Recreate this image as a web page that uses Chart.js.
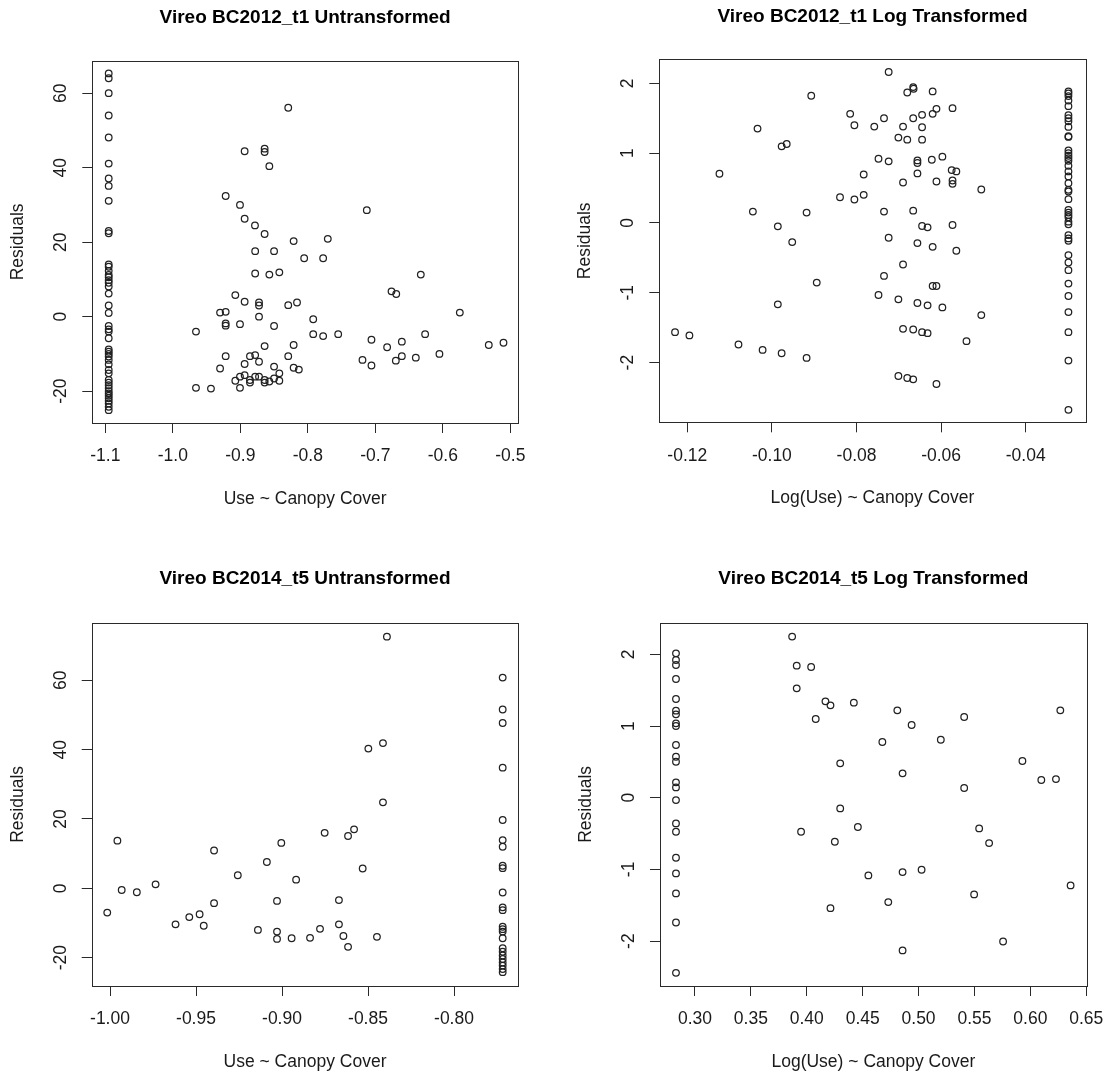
<!DOCTYPE html>
<html>
<head>
<meta charset="utf-8">
<script src="https://cdn.jsdelivr.net/npm/chart.js@4/dist/chart.umd.min.js"></script>
<style>
  html, body { margin: 0; padding: 0; background: #fff; }
  #page { position: relative; width: 1109px; height: 1076px; overflow: hidden; background: #fff; }
  canvas { position: absolute; }
</style>
</head>
<body>
<div id="page">
  <canvas id="c1" width="554" height="538" style="left:0px;top:0px"></canvas>
  <canvas id="c2" width="554" height="538" style="left:555px;top:0px"></canvas>
  <canvas id="c3" width="554" height="538" style="left:0px;top:538px"></canvas>
  <canvas id="c4" width="554" height="538" style="left:555px;top:538px"></canvas>
</div>
<script>
// ---------------- DATA ----------------
const titles = [
  "Vireo BC2012_t1 Untransformed",
  "Vireo BC2012_t1 Log Transformed",
  "Vireo BC2014_t5 Untransformed",
  "Vireo BC2014_t5 Log Transformed"
];
const xTitles = ["Use ~ Canopy Cover", "Log(Use) ~ Canopy Cover", "Use ~ Canopy Cover", "Log(Use) ~ Canopy Cover"];
const yTitle = "Residuals";

// Panel 1: Vireo BC2012_t1 Untransformed
const p1X = [
  -1.095,-1.095,-1.095,-1.095,-1.095,-1.095,-1.095,-1.095,-1.095,-1.095,
  -1.095,-1.095,-1.095,-1.095,-1.095,-1.095,-1.095,-1.095,-1.095,-1.095,
  -1.095,-1.095,-1.095,-1.095,-1.095,-1.095,-1.095,-1.095,-1.095,-1.095,
  -1.095,-1.095,-1.095,-1.095,-1.095,-1.095,-1.095,-1.095,-1.095,-1.095,
  -1.095,-1.095,-1.095,-1.095,-1.095,-1.095,
  -0.829,-0.8936,-0.864,-0.864,-0.857,-0.7126,-0.9217,-0.9005,-0.8936,-0.8783,
  -0.864,-0.821,-0.7704,-0.878,-0.850,-0.8054,-0.7773,-0.878,-0.857,-0.8422,
  -0.6326,-0.676,-0.669,-0.9074,-0.8936,-0.8723,-0.8723,-0.829,-0.816,-0.5748,
  -0.930,-0.9217,-0.9217,-0.9217,-0.9005,-0.8723,-0.850,-0.792,-0.9657,-0.792,
  -0.7773,-0.755,-0.7057,-0.6262,-0.6607,-0.6825,-0.5319,-0.5101,-0.864,-0.821,
  -0.9217,-0.8936,-0.8857,-0.878,-0.8723,-0.829,-0.719,-0.7057,-0.6696,-0.6607,
  -0.640,-0.605,-0.930,-0.850,-0.821,-0.8133,-0.9005,-0.9074,-0.8936,-0.8857,
  -0.878,-0.8723,-0.864,-0.864,-0.857,-0.850,-0.8422,-0.8422,-0.8857,-0.9005,
  -0.9657,-0.9435
];
const p1Y = [
  65.3,64.0,60.0,54.0,48.1,41.1,37.1,35.1,31.1,23.0,
  22.4,14.0,13.4,12.3,11.2,10.6,9.8,9.1,8.1,6.2,
  3.0,1.0,-2.5,-3.4,-4.0,-5.8,-8.8,-9.4,-10.0,-10.7,
  -11.6,-12.8,-14.3,-15.2,-17.0,-17.7,-18.4,-19.2,-20.0,-20.6,
  -21.2,-21.9,-22.6,-23.3,-24.2,-25.1,
  56.1,44.4,45.1,44.2,40.4,28.6,32.4,30.0,26.3,24.5,
  22.2,20.3,20.9,17.6,17.6,15.7,15.7,11.6,11.3,11.9,
  11.3,6.8,6.1,5.8,4.0,3.8,3.0,3.1,3.8,1.1,
  1.1,1.3,-1.8,-2.4,-2.0,0.0,-2.5,-0.7,-4.0,-4.7,
  -5.2,-4.7,-6.2,-4.7,-6.7,-8.2,-7.6,-7.0,-7.9,-7.6,
  -10.6,-12.7,-10.6,-10.3,-12.1,-10.6,-11.6,-13.1,-11.8,-10.6,
  -11.0,-10.0,-13.9,-13.4,-13.7,-14.2,-16.1,-17.2,-15.7,-17.0,
  -16.1,-16.1,-17.0,-17.7,-17.4,-16.6,-15.2,-17.2,-17.7,-19.1,
  -19.1,-19.3
];
const p1XTicks = [-1.1, -1.0, -0.9, -0.8, -0.7, -0.6, -0.5];
const p1XTickLabels = ["-1.1", "-1.0", "-0.9", "-0.8", "-0.7", "-0.6", "-0.5"];
const p1YTicks = [-20, 0, 20, 40, 60];
const p1YTickLabels = ["-20", "0", "20", "40", "60"];

// Panel 2: Vireo BC2012_t1 Log Transformed
const p2X = [
  -0.1229,-0.1195,-0.1124,-0.1079,-0.1045,-0.1034,-0.1022,-0.0986,-0.0986,-0.0977,
  -0.0965,-0.0977,-0.0952,-0.0918,-0.0918,-0.0907,-0.0894,-0.0839,-0.0815,-0.0805,
  -0.0805,-0.0724,-0.0666,-0.0665,-0.068,-0.062,-0.0758,-0.0735,-0.069,-0.0666,
  -0.0645,-0.062,-0.0611,-0.0573,-0.0645,-0.0701,-0.068,-0.0645,-0.0748,-0.0724,
  -0.0656,-0.0656,-0.0622,-0.0597,-0.0783,-0.0656,-0.0575,-0.0564,-0.069,-0.0611,
  -0.0573,-0.0573,-0.0505,-0.0783,-0.0735,-0.0666,-0.0645,-0.0632,-0.0573,-0.0724,
  -0.0656,-0.062,-0.0564,-0.069,-0.0735,-0.062,-0.0611,-0.0748,-0.0701,-0.0656,
  -0.0632,-0.0597,-0.0505,-0.069,-0.0666,-0.0645,-0.0632,-0.054,-0.0701,-0.068,
  -0.0666,-0.0611,
  -0.0299,-0.0299,-0.0299,-0.0299,-0.0299,-0.0299,-0.0299,-0.0299,-0.0299,-0.0299,
  -0.0299,-0.0299,-0.0299,-0.0299,-0.0299,-0.0299,-0.0299,-0.0299,-0.0299,-0.0299,
  -0.0299,-0.0299,-0.0299,-0.0299,-0.0299,-0.0299,-0.0299,-0.0299,-0.0299,-0.0299,
  -0.0299,-0.0299,-0.0299,-0.0299,-0.0299,-0.0299,-0.0299,-0.0299,-0.0299,-0.0299,
  -0.0299
];
const p2Y = [
  -1.564,-1.61,0.705,-1.741,0.163,1.352,-1.818,-0.048,-1.165,1.098,
  1.132,-1.866,-0.273,0.149,-1.933,1.823,-0.854,0.369,1.564,1.400,
  0.336,2.163,1.947,1.923,1.87,1.885,1.381,1.501,1.381,1.501,
  1.549,1.564,1.635,1.645,1.372,1.223,1.194,1.194,0.921,0.883,
  0.897,0.859,0.906,0.950,0.695,0.710,0.758,0.739,0.580,0.595,
  0.609,0.561,0.480,0.403,0.163,0.177,-0.043,-0.062,-0.029,-0.211,
  -0.288,-0.341,-0.398,-0.595,-0.758,-0.902,-0.902,-1.031,-1.094,-1.146,
  -1.180,-1.209,-1.319,-1.516,-1.525,-1.564,-1.578,-1.693,-2.192,-2.221,
  -2.240,-2.307,
  1.885,1.856,1.818,1.755,1.674,1.544,1.501,1.458,1.376,1.242,
  1.233,1.041,1.002,0.964,0.930,0.892,0.820,0.739,0.667,0.571,
  0.475,0.451,0.341,0.187,0.149,0.115,0.082,0.019,-0.019,-0.173,
  -0.221,-0.254,-0.460,-0.566,-0.676,-0.868,-1.046,-1.276,-1.564,-1.971,
  -2.676
];
const p2XTicks = [-0.12, -0.10, -0.08, -0.06, -0.04];
const p2XTickLabels = ["-0.12", "-0.10", "-0.08", "-0.06", "-0.04"];
const p2YTicks = [-2, -1, 0, 1, 2];
const p2YTickLabels = ["-2", "-1", "0", "1", "2"];

// Panel 3: Vireo BC2014_t5 Untransformed
const p3X = [
  -1.0016,-0.9957,-0.9932,-0.9844,-0.9735,-0.9619,-0.9539,-0.9479,-0.9455,-0.9395,
  -0.9395,-0.9257,-0.914,-0.9088,-0.9029,-0.9029,-0.9029,-0.9004,-0.8944,-0.8918,
  -0.839,-0.8498,-0.8413,-0.8413,-0.8752,-0.8616,-0.8581,-0.8531,-0.8669,-0.8669,
  -0.8779,-0.8643,-0.8616,-0.8448,-0.8837,
  -0.7717,-0.7717,-0.7717,-0.7717,-0.7717,-0.7717,-0.7717,-0.7717,-0.7717,-0.7717,
  -0.7717,-0.7717,-0.7717,-0.7717,-0.7717,-0.7717,-0.7717,-0.7717,-0.7717,-0.7717,
  -0.7717,-0.7717,-0.7717,-0.7717
];
const p3Y = [
  -7.0,13.75,-0.5,-1.15,1.15,-10.4,-8.3,-7.5,-10.8,10.9,
  -4.3,3.75,-12.0,7.6,-3.65,-12.5,-14.6,13.1,-14.4,2.5,
  72.6,40.3,41.9,24.8,16.0,15.1,17.0,5.7,-3.4,-10.4,
  -11.7,-13.75,-16.9,-14.0,-14.3,
  60.8,51.6,47.7,34.8,19.7,13.9,12.0,6.5,5.8,-1.2,
  -5.5,-6.3,-11.1,-11.8,-12.5,-14.4,-17.3,-18.3,-19.4,-20.4,
  -21.4,-22.3,-23.3,-24.2
];
const p3XTicks = [-1.00, -0.95, -0.90, -0.85, -0.80];
const p3XTickLabels = ["-1.00", "-0.95", "-0.90", "-0.85", "-0.80"];
const p3YTicks = [-20, 0, 20, 40, 60];
const p3YTickLabels = ["-20", "0", "20", "40", "60"];

// Panel 4: Vireo BC2014_t5 Log Transformed
const p4X = [
  0.3869,0.391,0.4039,0.391,0.4167,0.4212,0.4421,0.408,0.4299,0.4299,
  0.4457,0.3949,0.4251,0.4212,0.481,0.4938,0.5408,0.4676,0.5199,0.6268,
  0.5929,0.6098,0.6229,0.4857,0.5408,0.5542,0.5631,0.4551,0.4857,0.5027,
  0.636,0.4729,0.5497,0.5756,0.4857,
  0.283,0.283,0.283,0.283,0.283,0.283,0.283,0.283,0.283,0.283,
  0.283,0.283,0.283,0.283,0.283,0.283,0.283,0.283,0.283,0.283,
  0.283,0.283
];
const p4Y = [
  2.247,1.842,1.823,1.526,1.344,1.288,1.326,1.098,0.479,-0.149,
  -0.409,-0.474,-0.614,-1.540,1.219,1.014,1.126,0.777,0.809,1.219,
  0.512,0.247,0.260,0.340,0.135,-0.428,-0.633,-1.084,-1.037,-1.005,
  -1.223,-1.456,-1.349,-2.005,-2.130,
  2.014,1.921,1.851,1.656,1.377,1.214,1.163,1.037,1.0,0.735,
  0.572,0.502,0.214,0.144,-0.033,-0.358,-0.474,-0.837,-1.056,-1.335,
  -1.740,-2.442
];
const p4XTicks = [0.30, 0.35, 0.40, 0.45, 0.50, 0.55, 0.60, 0.65];
const p4XTickLabels = ["0.30", "0.35", "0.40", "0.45", "0.50", "0.55", "0.60", "0.65"];
const p4YTicks = [-2, -1, 0, 1, 2];
const p4YTickLabels = ["-2", "-1", "0", "1", "2"];

// ---------------- LAYOUT / STYLE ----------------
const FAMILY = '"Liberation Sans", Arial, Helvetica, sans-serif';
const FS = 17.5, LH = FS * 1.2;
const TFS = 19, TLH = TFS * 1.2;
const TICK_LEN = 10;
const X_LABEL_OFFSET = 33.5;          // box bottom -> centre of x tick labels
const INK = '#1a1a1a';

const panels = [
  { id: 'c1', title: titles[0], xTitle: xTitles[0], xs: p1X, ys: p1Y,
    xTicks: p1XTicks, xLabels: p1XTickLabels, yTicks: p1YTicks, yLabels: p1YTickLabels,
    xMin: -1.1193, xMax: -0.4886, yMin: -28.54, yMax: 68.72,
    box: [92.3, 60.7, 518, 423], titleCY: 17.7 },
  { id: 'c2', title: titles[1], xTitle: xTitles[1], xs: p2X, ys: p2Y,
    xTicks: p2XTicks, xLabels: p2XTickLabels, yTicks: p2YTicks, yLabels: p2YTickLabels,
    xMin: -0.12662, xMax: -0.02582, yMin: -2.855, yMax: 2.345,
    box: [104.3, 59.3, 530.7, 422.3], titleCY: 16.3 },
  { id: 'c3', title: titles[2], xTitle: xTitles[2], xs: p3X, ys: p3Y,
    xTicks: p3XTicks, xLabels: p3XTickLabels, yTicks: p3YTicks, yLabels: p3YTickLabels,
    xMin: -1.01064, xMax: -0.76262, yMin: -28.19, yMax: 76.63,
    box: [91.7, 84.7, 518.3, 448], titleCY: 40.5 },
  { id: 'c4', title: titles[3], xTitle: xTitles[3], xs: p4X, ys: p4Y,
    xTicks: p4XTicks, xLabels: p4XTickLabels, yTicks: p4YTicks, yLabels: p4YTickLabels,
    xMin: 0.2687, xMax: 0.6504, yMin: -2.626, yMax: 2.441,
    box: [105, 84.7, 531.7, 448], titleCY: 40.5 }
];

const boxPlugin = {
  id: 'rbox',
  afterDatasetsDraw(chart) {
    const { ctx, chartArea: a } = chart;
    ctx.save();
    ctx.strokeStyle = '#2a2a2a';
    ctx.lineWidth = 1;
    const l = Math.round(a.left) + 0.5, t = Math.round(a.top) + 0.5;
    const r = Math.round(a.right) + 0.5, b = Math.round(a.bottom) + 0.5;
    ctx.strokeRect(l, t, r - l, b - t);
    ctx.restore();
  }
};

const measureCtx = document.createElement('canvas').getContext('2d');

function makeChart(p) {
  const canvas = document.getElementById(p.id);
  const W = canvas.width, H = canvas.height;
  const [bl, bt, br, bb] = p.box;
  measureCtx.font = FS + 'px ' + FAMILY;
  const widest = Math.max(...p.yLabels.map(s => measureCtx.measureText(s).width));
  const tickFont = { family: FAMILY, size: FS };
  // x tick labels: no padding (so edge labels do not shrink the plot); the
  // line height places the label centre at the wanted distance below the box
  const xTickFont = { family: FAMILY, size: FS, lineHeight: 2 * (X_LABEL_OFFSET - TICK_LEN) / FS };
  const titlePadTop = p.titleCY - TLH / 2;

  return new Chart(canvas, {
    type: 'scatter',
    data: {
      datasets: [{
        data: p.xs.map((x, i) => ({ x: x, y: p.ys[i] })),
        pointStyle: 'circle',
        pointRadius: 3.3,
        pointBorderWidth: 1.25,
        pointBorderColor: '#222',
        pointBackgroundColor: 'rgba(0,0,0,0)',
        showLine: false
      }]
    },
    options: {
      responsive: false,
      animation: false,
      events: [],
      layout: { padding: { left: 0, top: 0, right: W - br, bottom: 0 } },
      plugins: {
        legend: { display: false },
        tooltip: { enabled: false },
        title: {
          display: true,
          text: p.title,
          fullSize: false,
          color: '#000',
          font: { family: FAMILY, size: TFS, weight: 'bold' },
          padding: { top: titlePadTop, bottom: bt - titlePadTop - TLH }
        }
      },
      scales: {
        x: {
          type: 'linear',
          position: 'bottom',
          min: p.xMin, max: p.xMax,
          bounds: 'data',
          afterBuildTicks: s => { s.ticks = p.xTicks.map(v => ({ value: v })); },
          afterFit: s => { s.height = H - bb; },
          ticks: {
            autoSkip: false, minRotation: 0, maxRotation: 0,
            padding: 0,
            font: xTickFont, color: INK,
            callback: (v, i) => p.xLabels[i]
          },
          grid: { display: true, drawOnChartArea: false, drawTicks: true, tickLength: TICK_LEN, color: '#2a2a2a', lineWidth: 1 },
          border: { display: false },
          title: {
            display: true, text: p.xTitle, color: INK, font: tickFont,
            padding: { top: 0, bottom: (H - bb) - 76 - LH / 2 }
          }
        },
        y: {
          type: 'linear',
          position: 'left',
          min: p.yMin, max: p.yMax,
          bounds: 'data',
          afterBuildTicks: s => { s.ticks = p.yTicks.map(v => ({ value: v })); },
          afterFit: s => { s.width = bl; },
          ticks: {
            autoSkip: false, minRotation: 90, maxRotation: 90,
            crossAlign: 'center',
            padding: 31 - TICK_LEN - widest / 2,
            font: tickFont, color: INK,
            callback: (v, i) => p.yLabels[i]
          },
          grid: { display: true, drawOnChartArea: false, drawTicks: true, tickLength: TICK_LEN, color: '#2a2a2a', lineWidth: 1 },
          border: { display: false },
          title: {
            display: true, text: yTitle, color: INK, font: tickFont,
            padding: { top: bl - 74 - LH / 2, bottom: 0 }
          }
        }
      }
    },
    plugins: [boxPlugin]
  });
}

panels.forEach(makeChart);
</script>
</body>
</html>
